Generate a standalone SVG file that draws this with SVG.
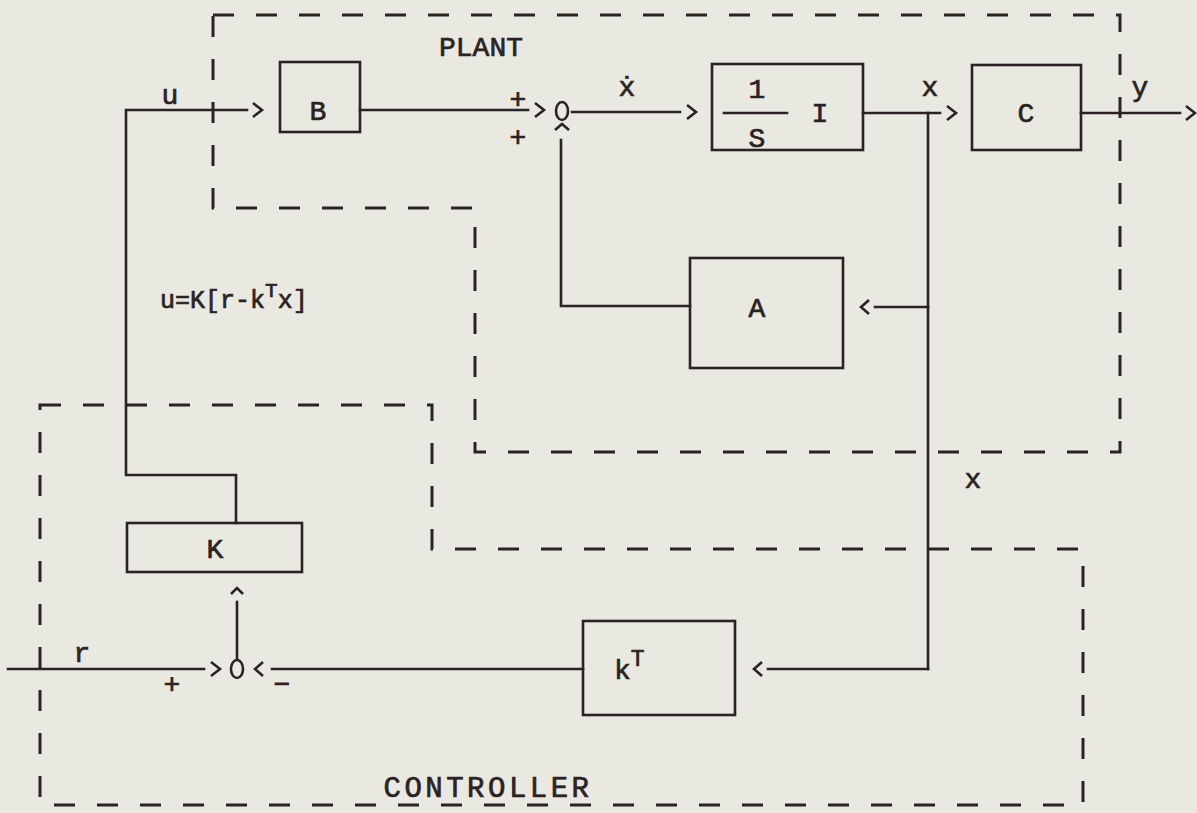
<svg xmlns="http://www.w3.org/2000/svg" width="1197" height="813" viewBox="0 0 1197 813">
<style>
.ln{fill:none;stroke:#2b2323;stroke-width:2.6;stroke-linecap:square}
.bx{fill:none;stroke:#2b2323;stroke-width:2.6}
.ds{fill:none;stroke:#2b2323;stroke-width:3;stroke-dasharray:21 22}
.ar{fill:none;stroke:#2b2323;stroke-width:2.6;stroke-linejoin:miter}
.t{font-family:"Liberation Mono","Courier New",monospace;font-size:28px;fill:#2b2323;stroke:#2b2323;stroke-width:0.7;text-anchor:middle}
.tl{font-family:"Liberation Mono","Courier New",monospace;font-size:25px;fill:#2b2323;stroke:#2b2323;stroke-width:0.7}
.sup{font-size:21px}
</style>
<rect width="1197" height="813" fill="#e9e9e1"/>
<g id="plant-boundary">
<path class="ds" d="M213,15 H1120 V452 H475 V208 H213 Z"/>
<text class="t" x="481" y="56">PLANT</text>
</g>
<g id="controller-boundary">
<path class="ds" d="M40,405 H432 V549 H1083 V805 H40 Z"/>
<text class="t" x="488" y="797" style="font-size:29px;letter-spacing:3.5px">CONTROLLER</text>
</g>
<g id="connectors">
<path class="ln" d="M236,523 V475 H126 V110 H247"/>
<polyline class="ar" points="253,103 262,110 253,117"/>
<path class="ln" d="M360,110 H528"/>
<polyline class="ar" points="535,103 544,110 535,117"/>
<path class="ln" d="M572,112 H680"/>
<polyline class="ar" points="687,105 696,112 687,119"/>
<path class="ln" d="M863,113 H940"/>
<polyline class="ar" points="947,106 956,113 947,120"/>
<path class="ln" d="M1081,113 H1180"/>
<polyline class="ar" points="1186,106 1195,113 1186,120"/>
<path class="ln" d="M928,113 V669"/>
<path class="ln" d="M928,307 H875"/>
<polyline class="ar" points="869,300 861,307 869,314"/>
<path class="ln" d="M690,306 H561 V140"/>
<polyline class="ar" points="555,130 562,124 569,130"/>
<path class="ln" d="M928,669 H768"/>
<polyline class="ar" points="762,662 754,669 762,676"/>
<path class="ln" d="M583,669 H272"/>
<polyline class="ar" points="263,662 255,669 263,676"/>
<path class="ln" d="M8,669 H204"/>
<polyline class="ar" points="211,662 220,669 211,676"/>
<path class="ln" d="M237,659 V602"/>
<polyline class="ar" points="231,594 237,588 243,594"/>
</g>
<g id="sum1">
<ellipse cx="562" cy="111" rx="6" ry="9" class="bx"/>
<text class="t" x="518" y="108">+</text>
<text class="t" x="518" y="146">+</text>
</g>
<g id="sum2">
<ellipse cx="237" cy="669" rx="6" ry="9" class="bx"/>
<text class="t" x="172" y="693">+</text>
<text class="t" x="282" y="693">−</text>
</g>
<g id="node-B">
<rect class="bx" x="280" y="62" width="80" height="70"/>
<text class="t" x="318" y="120">B</text>
</g>
<g id="node-integrator">
<rect class="bx" x="712" y="64" width="151" height="86"/>
<text class="t" x="757" y="98">1</text>
<path class="ln" d="M724,113 H787"/>
<text class="t" x="757" y="147">S</text>
<text class="t" x="820" y="122">I</text>
</g>
<g id="node-C">
<rect class="bx" x="972" y="65" width="109" height="85"/>
<text class="t" x="1026" y="122">C</text>
</g>
<g id="node-A">
<rect class="bx" x="690" y="258" width="153" height="110"/>
<text class="t" x="757" y="317">A</text>
</g>
<g id="node-K">
<rect class="bx" x="127" y="523" width="175" height="49"/>
<text class="t" x="215" y="558">K</text>
</g>
<g id="node-kT">
<rect class="bx" x="583" y="621" width="152" height="94"/>
<text class="tl" x="614" y="679" style="font-size:28px">k<tspan class="sup" style="font-size:23px" dy="-13">T</tspan></text>
</g>
<g id="labels">
<text class="t" x="170" y="104">u</text>
<text class="t" x="627" y="96">ẋ</text>
<text class="t" x="930" y="96">x</text>
<text class="t" x="1140" y="96">y</text>
<text class="tl" x="160" y="308">u=K[r-k<tspan class="sup" dy="-11">T</tspan><tspan dy="11">x]</tspan></text>
<text class="t" x="973" y="488">x</text>
<text class="t" x="82" y="662">r</text>
</g>
</svg>
